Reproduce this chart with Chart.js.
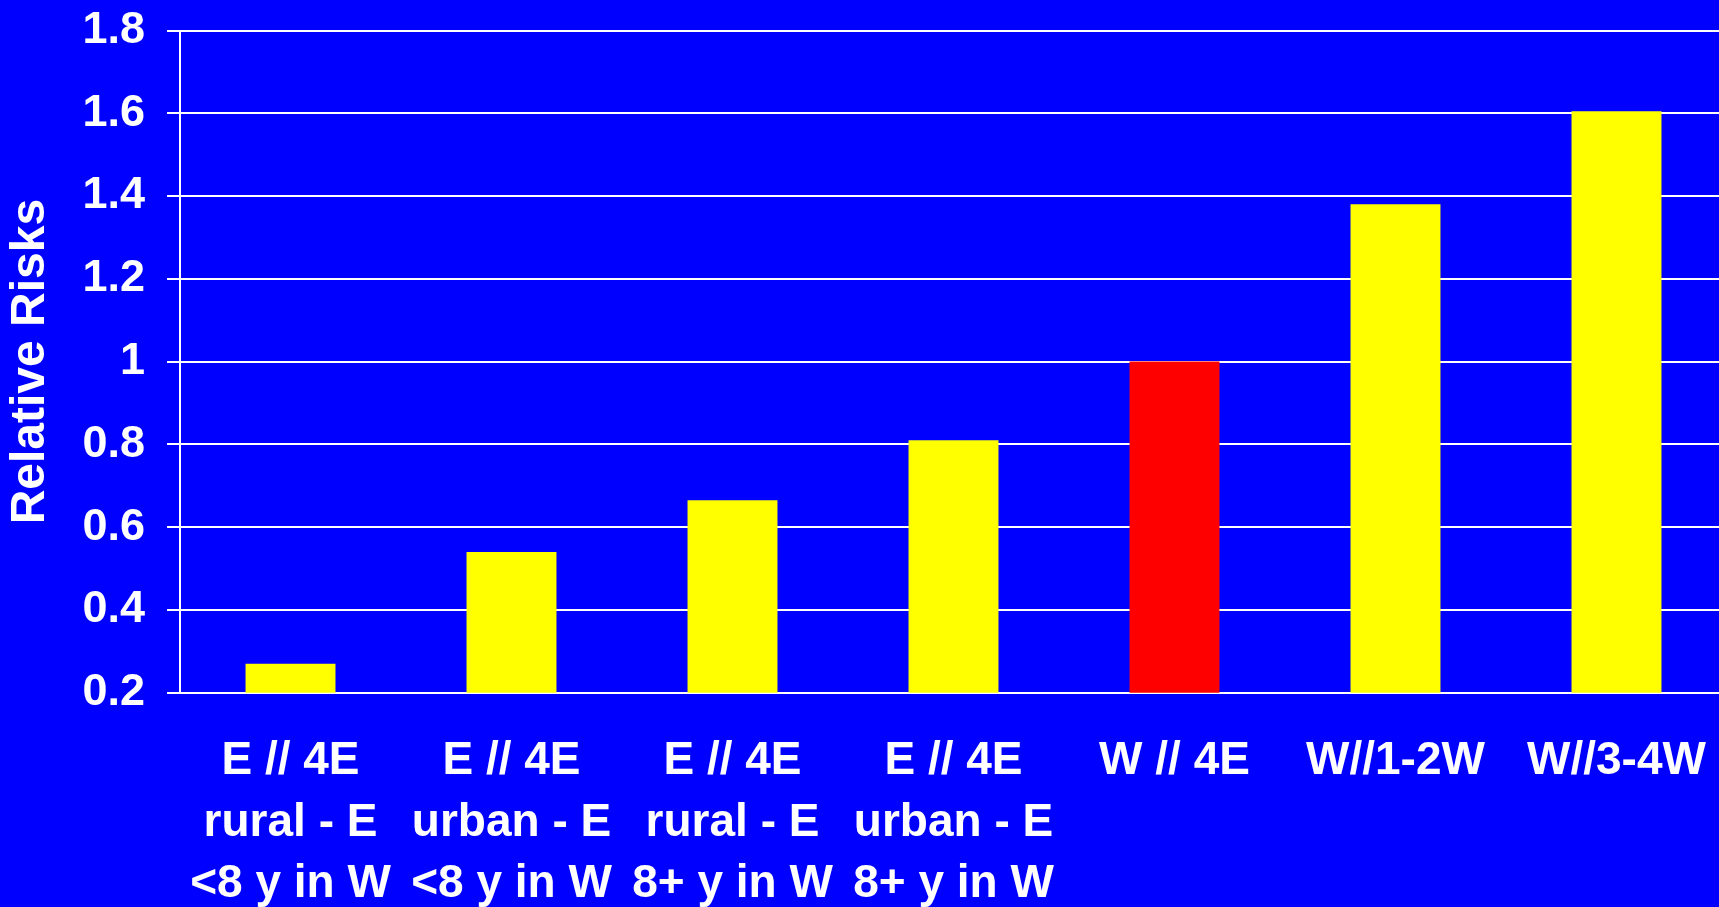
<!DOCTYPE html>
<html>
<head>
<meta charset="utf-8">
<script src="https://cdn.jsdelivr.net/npm/chart.js@4.4.1/dist/chart.umd.min.js"></script>
<style>
  html, body { margin: 0; padding: 0; background: #0000FF; overflow: hidden; width: 1719px; height: 907px; }
  canvas { display: block; }
</style>
</head>
<body>
<canvas id="c" width="1727" height="907"></canvas>
<script>
const categories = [
  ["E // 4E", "rural - E", "<8 y in W"],
  ["E // 4E", "urban - E", "<8 y in W"],
  ["E // 4E", "rural - E", "8+ y in W"],
  ["E // 4E", "urban - E", "8+ y in W"],
  ["W // 4E"],
  ["W//1-2W"],
  ["W//3-4W"]
];
const relativeRisks = [0.27, 0.54, 0.665, 0.81, 1.0, 1.38, 1.605];
const barColors = ["#FFFF00", "#FFFF00", "#FFFF00", "#FFFF00", "#FF0000", "#FFFF00", "#FFFF00"];
const yMin = 0.2, yMax = 1.8, yStep = 0.2;
const yTitle = "Relative Risks";

const FONT = "'Liberation Sans', Arial, Helvetica, sans-serif";

new Chart(document.getElementById('c'), {
  type: 'bar',
  data: {
    labels: categories,
    datasets: [{
      data: relativeRisks,
      backgroundColor: barColors,
      borderWidth: 0,
      barPercentage: 0.407,
      categoryPercentage: 1.0
    }]
  },
  options: {
    responsive: false,
    animation: false,
    devicePixelRatio: 1,
    layout: { padding: { top: 30.5, left: 0, right: 0, bottom: 0 } },
    plugins: { legend: { display: false }, tooltip: { enabled: false } },
    scales: {
      x: {
        grid: { display: false, drawTicks: false },
        border: { display: false },
        ticks: {
          color: '#FFFFFF',
          font: { family: FONT, size: 46, weight: 'bold', lineHeight: 1.33 },
          padding: 38.5,
          maxRotation: 0,
          minRotation: 0,
          autoSkip: false
        },
        afterFit(scale) {
          scale.height = 214.3;
          scale.paddingLeft = 0;
          scale.paddingRight = 0;
        }
      },
      y: {
        min: yMin,
        max: yMax,
        ticks: {
          stepSize: yStep,
          color: '#FFFFFF',
          font: { family: FONT, size: 45, weight: 'bold' },
          padding: 22,
          callback: (v) => String(Number(v.toFixed(1)))
        },
        grid: { color: '#FFFFFF', lineWidth: 2, tickLength: 13, drawTicks: true },
        border: { display: true, color: '#FFFFFF', width: 2 },
        title: {
          display: true,
          text: yTitle,
          color: '#FFFFFF',
          font: { family: FONT, size: 48, weight: 'bold' },
          padding: { top: 2, bottom: 0 }
        },
        afterFit(scale) {
          scale.width = 180;
          scale.paddingTop = 0;
          scale.paddingBottom = 0;
        }
      }
    }
  },
  plugins: [{
    id: 'bg',
    beforeDraw(chart) {
      const ctx = chart.ctx;
      ctx.save();
      ctx.fillStyle = '#0000FF';
      ctx.fillRect(0, 0, chart.width, chart.height);
      ctx.restore();
    }
  }]
});
</script>
</body>
</html>
